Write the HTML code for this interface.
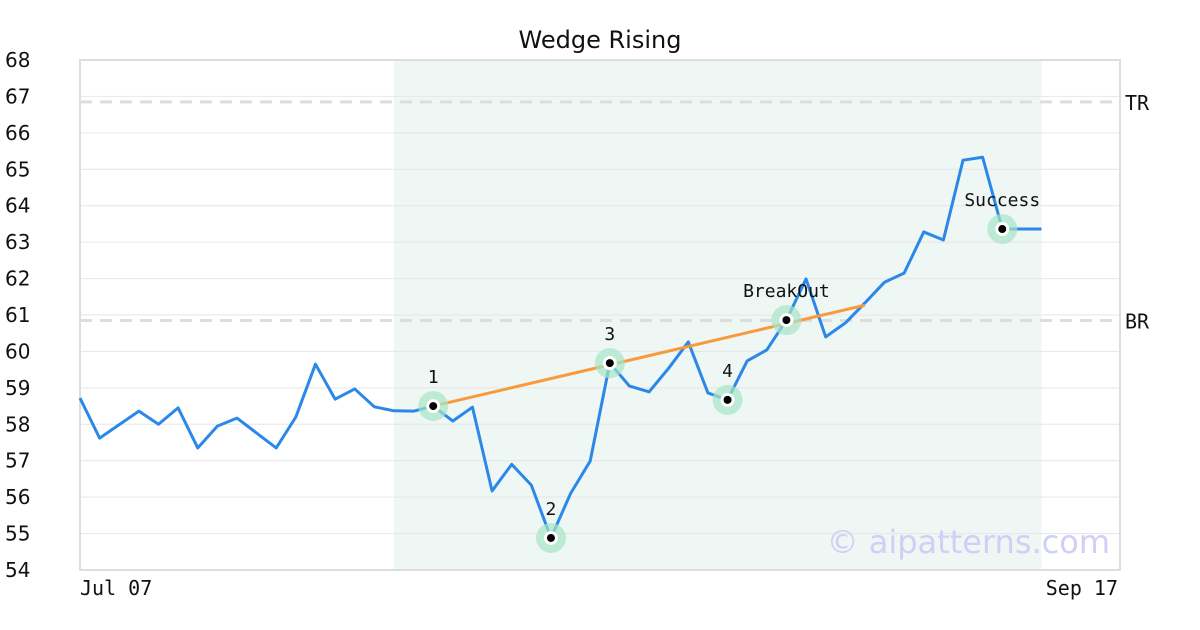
<!DOCTYPE html>
<html><head><meta charset="utf-8"><style>
body{margin:0;background:#fff;width:1200px;height:630px;overflow:hidden}
svg{display:block}
</style></head><body>
<svg id="chart" width="1200" height="630" font-family="DejaVu Sans, Liberation Sans, sans-serif">
<text x="600" y="48" text-anchor="middle" font-size="24" fill="#111">Wedge Rising</text>
<g id="grid"></g><g id="marks"></g>
</svg>
<script>
const values=[58.72,57.62,57.99,58.36,58.0,58.45,57.35,57.95,58.17,57.76,57.35,58.2,59.65,58.69,58.97,58.48,58.37,58.36,58.5,58.09,58.47,56.17,56.9,56.33,54.88,56.1,56.99,59.68,59.05,58.89,59.54,60.26,58.86,58.67,59.74,60.04,60.86,61.99,60.4,60.78,61.33,61.9,62.15,63.28,63.06,65.25,65.33,63.36,63.36,63.36];
const yTicks=[54,55,56,57,58,59,60,61,62,63,64,65,66,67,68];
const xLabels=["Jul 07","Sep 17"];
const pointIdx=[18,24,27,33,36,47];
const pointLabels=["1","2","3","4","BreakOut","Success"];
const trendStart=[18,58.5];
const trendEnd=[40,61.27];
const levels=[66.85,60.85];
const levelLabels=["TR","BR"];
const shadeRange=[16,49];
const xMaxIdx=53;
const L=80,R=1120,T=60,B=570;
const X=i=>L+i*(R-L)/xMaxIdx;
const Y=v=>B-(v-54)*(B-T)/14;
const NS="http://www.w3.org/2000/svg";
const svg=document.getElementById('chart');
const g=document.getElementById('grid'),m=document.getElementById('marks');
function el(t,a,p){const e=document.createElementNS(NS,t);for(const k in a)e.setAttribute(k,a[k]);p.appendChild(e);return e;}
let sh=el('rect',{x:X(shadeRange[0]),y:T,width:X(shadeRange[1])-X(shadeRange[0]),height:B-T,fill:'#eef7f3'},g);


yTicks.forEach(v=>{
 let ln=el('line',{x1:L,x2:R,y1:Y(v),y2:Y(v),stroke:'#e6e6e6','stroke-width':1},g);
 
 
 let t=el('text',{x:5,y:Y(v)+7,'font-size':20,fill:'#111'},g);
 t.textContent=v;
 
 
});
let fr=el('rect',{x:L,y:T,width:R-L,height:B-T,fill:'none',stroke:'#dddddd','stroke-width':2},g);


levels.forEach((v,i)=>{
 let ln=el('line',{x1:L,x2:R,y1:Y(v),y2:Y(v),stroke:'#dddddd','stroke-width':3,'stroke-dasharray':'12,8'},g);
 
 
 let t=el('text',{x:1125,y:Y(v)+8,'font-size':20,fill:'#111','font-family':'DejaVu Sans Mono, Liberation Mono, monospace'},g);
 t.textContent=levelLabels[i];
 
 
});
let xl0=el('text',{x:L,y:595,'font-size':20,fill:'#111','font-family':'DejaVu Sans Mono, Liberation Mono, monospace'},g);
xl0.textContent=xLabels[0];


let xl1=el('text',{x:R-2,y:595,'font-size':20,fill:'#111','text-anchor':'end','font-family':'DejaVu Sans Mono, Liberation Mono, monospace'},g);
xl1.textContent=xLabels[1];


let wm=el('text',{x:1110,y:553,'font-size':32,fill:'#cfcff7','text-anchor':'end'},g);
wm.textContent='© aipatterns.com';


let pl=el('polyline',{points:values.map((v,i)=>X(i)+','+Y(v)).join(' '),fill:'none',stroke:'#2b88e8','stroke-width':3,'stroke-linejoin':'round'},m);


let tl=el('line',{x1:X(trendStart[0]),y1:Y(trendStart[1]),x2:X(trendEnd[0]),y2:Y(trendEnd[1]),stroke:'#f89a3c','stroke-width':3},m);


pointIdx.forEach((idx,k)=>{
 const cx=X(idx),cy=Y(values[idx]);
 let h=el('circle',{cx,cy,r:15,fill:'#a8e4c8',opacity:0.7},m);
 
 
 let w=el('circle',{cx,cy,r:7,fill:'#fff'},m);
 
 
 let d=el('circle',{cx,cy,r:4,fill:'#000'},m);
 
 
 let t=el('text',{x:cx,y:cy-23,'font-size':18,fill:'#111','text-anchor':'middle','font-family':'DejaVu Sans Mono, Liberation Mono, monospace'},m);
 t.textContent=pointLabels[k];
 
 
});
</script>
</body></html>
